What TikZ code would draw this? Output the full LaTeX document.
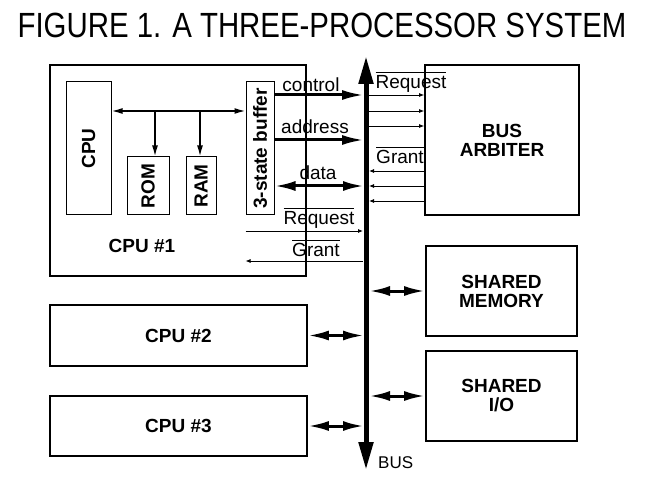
\documentclass[tikz,border=0pt]{standalone}
\usepackage{fontspec}
\setmainfont{Liberation Sans}
\usetikzlibrary{arrows.meta}
\newlength\ovlw
\newcommand\ovl[1]{\settowidth\ovlw{#1}\rlap{\rule[16pt]{\ovlw}{0.9pt}}#1}
\begin{document}
\begin{tikzpicture}[x=1pt,y=-1pt,
  lbl/.style={font=\fontsize{19}{22}\selectfont, inner sep=0pt, anchor=base},
  blbl/.style={font=\fontsize{19}{22}\selectfont\bfseries, inner sep=0pt, align=center},
  outerbox/.style={draw, line width=1.8pt},
  innerbox/.style={draw, line width=1pt},
  thick arrow/.style={line width=3pt, -{Latex[length=22pt,width=10pt]}},
  dbl arrow/.style={line width=3pt, {Latex[length=21pt,width=10pt]}-{Latex[length=21pt,width=10pt]}},
  sig/.style={line width=0.8pt, -{Latex[length=5pt,width=4pt]}},
  ibus/.style={line width=1.6pt},
  ihead/.style={-{Latex[length=11pt,width=6pt]}}
]
\useasboundingbox (0,0) rectangle (650,478);

% title
\node[inner sep=0pt, anchor=base] (title) at (322,38)
  {\scalebox{0.84}[1]{\fontsize{35}{40}\selectfont FIGURE 1. A THREE-PROCESSOR SYSTEM}};

% CPU #1 block
\draw[outerbox] (50,65) rectangle (306,276);
\node[innerbox, minimum width=45pt, minimum height=133pt, inner sep=0pt] (cpu) at (88.5,148.5) {};
\node[blbl, rotate=90] (cputxt) at (cpu.center) {CPU};
\node[innerbox, minimum width=42pt, minimum height=58pt, inner sep=0pt] (rom) at (148,186) {};
\node[blbl, rotate=90] (romtxt) at (rom.center) {ROM};
\node[innerbox, minimum width=30pt, minimum height=58pt, inner sep=0pt] (ram) at (201,186) {};
\node[blbl, rotate=90] (ramtxt) at (ram.center) {RAM};
\node[innerbox, minimum width=28pt, minimum height=133pt, inner sep=0pt] (buf) at (260,148.5) {};
\node[blbl, rotate=90] (buftxt) at (buf.center) {3-state buffer};
\node[blbl, anchor=base] (cpu1) at (142,252) {CPU \#1};

% internal bus
\coordinate (jrom) at (155,111);
\coordinate (jram) at (200,111);
\draw[ibus, {Latex[length=11pt,width=6pt]}-{Latex[length=11pt,width=6pt]}] (cpu.east |- 0,111) -- (buf.west |- 0,111);
\draw[ibus, ihead] (jrom) -- (jrom |- rom.north);
\draw[ibus, ihead] (jram) -- (jram |- ram.north);

% system bus
\coordinate (bustop) at (366,56);
\coordinate (busbot) at (366,470);
\draw[line width=5pt, {Triangle[length=28pt,width=14pt]}-{Triangle[length=28pt,width=14pt]}] (bustop) -- (busbot);
\node[lbl, font=\fontsize{17}{20}\selectfont, anchor=base west] (buslbl) at (378,468) {BUS};

% buffer to bus
\draw[thick arrow] (buf.east |- 0,95) -- (364,95);
\node[lbl] (lctrl) at (311,92) {control};
\draw[thick arrow] (buf.east |- 0,140) -- (364,140);
\node[lbl] (laddr) at (315,134) {address};
\draw[dbl arrow] (buf.east |- 0,186) -- (364,186);
\node[lbl] (ldata) at (318,180) {data};

% request / grant CPU1
\draw[sig] (buf.west |- 0,231) -- (363,231);
\node[lbl] (lreq1) at (319,225) {\ovl{Request}};
\draw[sig] (363,261) -- (buf.west |- 0,261);
\node[lbl] (lgr1) at (316,257) {\ovl{Grant}};

% arbiter
\node[outerbox, minimum width=154pt, minimum height=150pt, inner sep=0pt] (arb) at (502,140) {};
\node[blbl] (arbtxt) at (arb.center) {BUS\\[-3pt]ARBITER};
\draw[sig] (369,95) -- (arb.west |- 0,95);
\draw[sig] (369,111) -- (arb.west |- 0,111);
\draw[sig] (369,126) -- (arb.west |- 0,126);
\node[lbl] (lreq2) at (411,89) {\ovl{Request}};
\draw[sig] (arb.west |- 0,171) -- (369,171);
\draw[sig] (arb.west |- 0,186) -- (369,186);
\draw[sig] (arb.west |- 0,201) -- (369,201);
\node[lbl] (lgr2) at (400,164) {\ovl{Grant}};

% shared memory / IO
\node[outerbox, minimum width=151pt, minimum height=90pt, inner sep=0pt] (mem) at (501.5,291) {};
\node[blbl] (memtxt) at (mem.center) {SHARED\\[-3pt]MEMORY};
\node[outerbox, minimum width=151pt, minimum height=90pt, inner sep=0pt] (io) at (501.5,396) {};
\node[blbl] (iotxt) at (io.center) {SHARED\\[-3pt]I/O};
\draw[dbl arrow] (369,291) -- (mem.west);
\draw[dbl arrow] (369,396) -- (io.west);

% CPU 2 / 3
\node[outerbox, minimum width=257pt, minimum height=61pt, inner sep=0pt] (cpu2) at (178.5,335.5) {};
\node[blbl] (cpu2txt) at (cpu2.center) {CPU \#2};
\node[outerbox, minimum width=257pt, minimum height=60pt, inner sep=0pt] (cpu3) at (178.5,426) {};
\node[blbl] (cpu3txt) at (cpu3.center) {CPU \#3};
\draw[dbl arrow] (cpu2.east) -- (364,335.5);
\draw[dbl arrow] (cpu3.east) -- (364,426);
\end{tikzpicture}
\end{document}
